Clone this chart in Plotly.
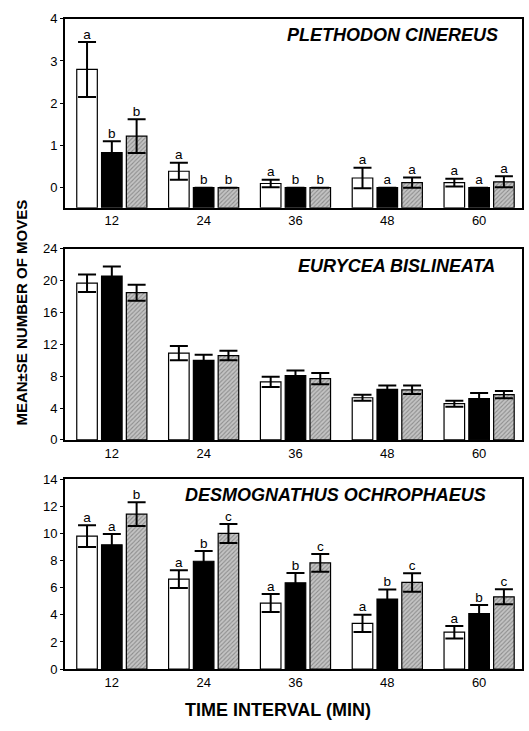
import plotly.graph_objects as go
from plotly.subplots import make_subplots

# ---------------- data ----------------
intervals = ["12", "24", "36", "48", "60"]

pc_white = [2.80, 0.39, 0.10, 0.23, 0.12]
pc_white_se = [0.65, 0.20, 0.09, 0.24, 0.09]
pc_black = [0.83, 0.0, 0.0, 0.0, 0.0]
pc_black_se = [0.27, 0.0, 0.0, 0.0, 0.0]
pc_hatch = [1.22, 0.0, 0.0, 0.12, 0.14]
pc_hatch_se = [0.40, 0.0, 0.0, 0.12, 0.13]
pc_white_letters = ["a", "a", "a", "a", "a"]
pc_black_letters = ["b", "b", "b", "a", "a"]
pc_hatch_letters = ["b", "b", "b", "a", "a"]

eb_white = [19.7, 10.9, 7.3, 5.3, 4.55]
eb_white_se = [1.1, 0.9, 0.65, 0.37, 0.38]
eb_black = [20.6, 10.0, 8.07, 6.35, 5.2]
eb_black_se = [1.2, 0.7, 0.65, 0.5, 0.7]
eb_hatch = [18.5, 10.6, 7.7, 6.3, 5.7]
eb_hatch_se = [1.0, 0.6, 0.7, 0.53, 0.45]

do_white = [9.8, 6.63, 4.87, 3.37, 2.72]
do_white_se = [0.8, 0.65, 0.67, 0.63, 0.46]
do_black = [9.16, 7.95, 6.36, 5.16, 4.1]
do_black_se = [0.8, 0.75, 0.72, 0.7, 0.62]
do_hatch = [11.42, 10.0, 7.83, 6.39, 5.33]
do_hatch_se = [0.88, 0.7, 0.66, 0.68, 0.55]
do_white_letters = ["a", "a", "a", "a", "a"]
do_black_letters = ["a", "b", "b", "b", "b"]
do_hatch_letters = ["b", "c", "c", "c", "c"]

titles = ["PLETHODON CINEREUS", "EURYCEA BISLINEATA", "DESMOGNATHUS OCHROPHAEUS"]

# ---------------- style ----------------
FONT = "Liberation Sans, Arial, sans-serif"
W, H = 529, 731
OFF = 0.27
BW = 0.224
P1_MIN = -0.475

styles = {
    "white": dict(color="white", line=dict(color="black", width=1.2)),
    "black": dict(color="black", line=dict(color="black", width=1.2)),
    "hatch": dict(color="#bbbbbb", line=dict(color="black", width=1.2),
                  pattern=dict(shape="/", fgcolor="#555555", bgcolor="#c4c4c4",
                               size=3, solidity=0.35)),
}

fig = make_subplots(rows=3, cols=1)

xpos = list(range(len(intervals)))


def add_panel(row, series, base=None):
    for (name, vals, se, letters), off in zip(series, [-OFF, 0, OFF]):
        xs = [i + off for i in xpos]
        if base is None:
            ys = vals
            b = None
        else:
            ys = [v - base for v in vals]
            b = base
        fig.add_trace(go.Bar(
            x=xs, y=ys, base=b, width=BW, marker=styles[name],
            error_y=dict(type="data", array=se, visible=True,
                         color="black", thickness=2, width=9),
            showlegend=False, hoverinfo="skip"), row=row, col=1)
        if letters is not None:
            fig.add_trace(go.Scatter(
                x=xs, y=[v + s for v, s in zip(vals, se)], mode="text",
                text=letters, textposition="top center",
                textfont=dict(family=FONT, size=13.5, color="black"),
                showlegend=False, hoverinfo="skip"), row=row, col=1)


add_panel(1, [("white", pc_white, pc_white_se, pc_white_letters),
              ("black", pc_black, pc_black_se, pc_black_letters),
              ("hatch", pc_hatch, pc_hatch_se, pc_hatch_letters)], base=P1_MIN)
add_panel(2, [("white", eb_white, eb_white_se, None),
              ("black", eb_black, eb_black_se, None),
              ("hatch", eb_hatch, eb_hatch_se, None)])
add_panel(3, [("white", do_white, do_white_se, do_white_letters),
              ("black", do_black, do_black_se, do_black_letters),
              ("hatch", do_hatch, do_hatch_se, do_hatch_letters)])

# pixel layout of the plot areas
L_PX, R_PX = 65, 522
panels_px = [(12, 205), (247, 442), (482, 676)]
yranges = [[P1_MIN, 4], [0, 24], [0, 14]]
ytick_sets = [[0, 1, 2, 3, 4], [0, 4, 8, 12, 16, 20, 24], [0, 2, 4, 6, 8, 10, 12, 14]]

axis_common = dict(showline=True, linecolor="black", linewidth=2, mirror=True,
                   showgrid=False, zeroline=False,
                   tickfont=dict(family=FONT, size=13, color="black"))

for k, ((top, bot), yr, tv) in enumerate(zip(panels_px, yranges, ytick_sets)):
    sfx = "" if k == 0 else str(k + 1)
    fig.layout["yaxis" + sfx].update(
        domain=[1 - bot / H, 1 - top / H], range=yr, tickvals=tv,
        ticks="outside", ticklen=3, tickwidth=1, tickcolor="black", **axis_common)
    fig.layout["xaxis" + sfx].update(
        domain=[0, 1], range=[-0.51, 4.467], tickvals=xpos, ticktext=intervals,
        ticks="", **axis_common)

title_pos = [(500, 29), (497, 264), (488, 498)]
for t, (xr, yc) in zip(titles, title_pos):
    fig.add_annotation(text="<b><i>%s</i></b>" % t, xref="paper", yref="paper",
                       x=(xr - L_PX) / (R_PX - L_PX), y=1 - yc / H,
                       xanchor="right", yanchor="middle", showarrow=False,
                       font=dict(family=FONT, size=18, color="black"))

fig.add_annotation(text="<b>MEAN±SE NUMBER OF MOVES</b>", xref="paper", yref="paper",
                   x=(22 - L_PX) / (R_PX - L_PX), y=1 - 312 / H, textangle=-90,
                   xanchor="center", yanchor="middle", showarrow=False,
                   font=dict(family=FONT, size=15, color="black"))
fig.add_annotation(text="<b>TIME INTERVAL (MIN)</b>", xref="paper", yref="paper",
                   x=(278 - L_PX) / (R_PX - L_PX), y=1 - 718 / H,
                   xanchor="center", yanchor="middle", showarrow=False,
                   font=dict(family=FONT, size=18, color="black"))

fig.update_layout(width=W, height=H, margin=dict(l=L_PX, r=W - R_PX, t=0, b=0),
                  paper_bgcolor="white", plot_bgcolor="white", barmode="overlay",
                  font=dict(family=FONT, color="black"))

fig.write_html("out.html", config={"displayModeBar": False},
               post_script="document.body.style.margin='0px';")
